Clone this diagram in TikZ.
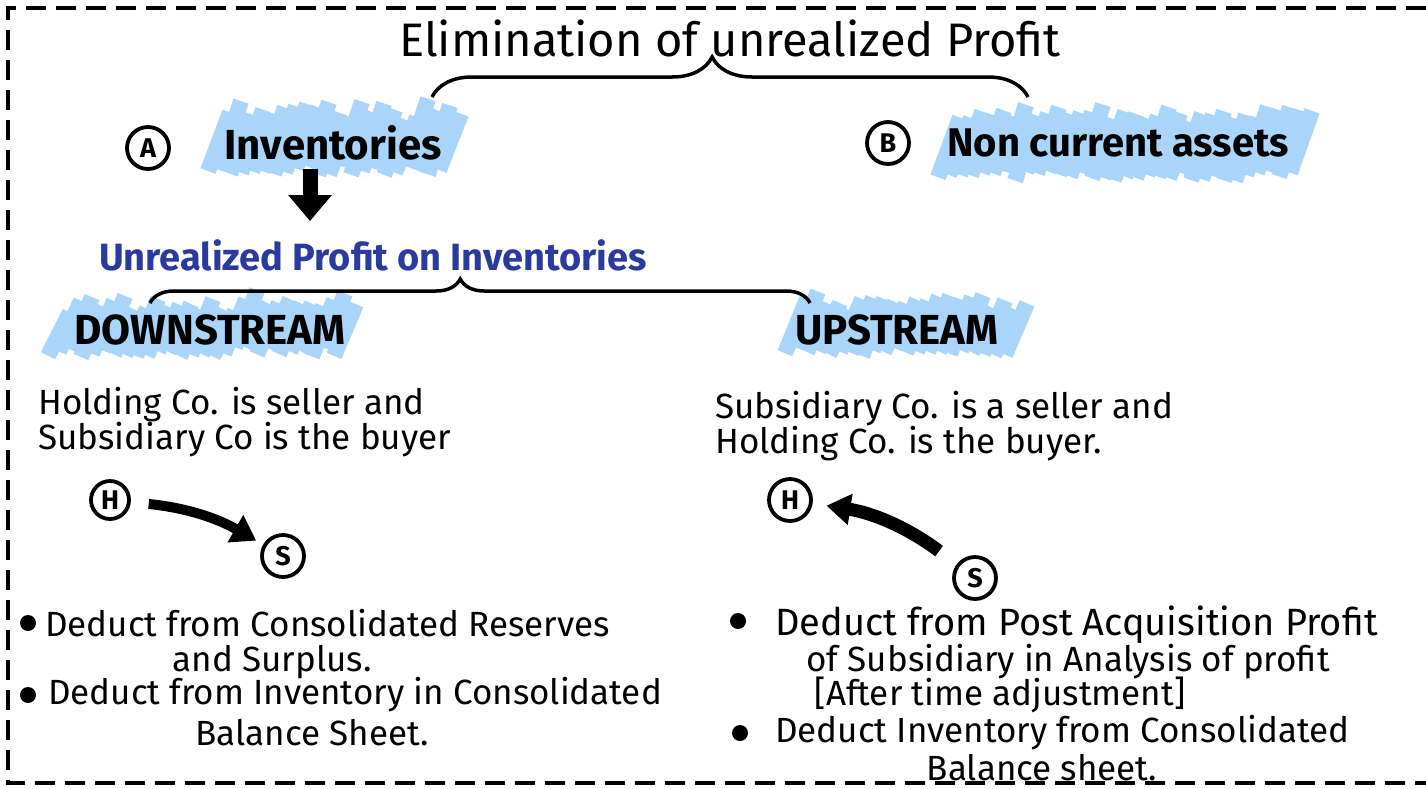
\documentclass[tikz,border=0pt]{standalone}
\usepackage{fontspec}
\setmainfont{Fira Sans}
\usetikzlibrary{arrows.meta,decorations.pathreplacing,positioning}

\definecolor{marcador}{HTML}{A9D5FA}
\definecolor{tintaazul}{HTML}{2B3A9E}

%Resaltado con trazos inclinados
\newcommand{\resaltar}[5]{%
    \foreach \x in {#1,#2,...,#3}{
        \draw[resalte] (\x,{#4+5*rand}) -- ++(22,{-#5-7*rand});
    }
}

\begin{document}
\begin{tikzpicture}[x=1pt,y=-1pt,
    texto/.style={inner sep=0pt,font=\fontsize{#1}{#1}\selectfont},
    titular/.style={inner sep=0pt,font=\fontsize{#1}{#1}\selectfont\bfseries},
    letra/.style={circle,draw,line width=3.8pt,minimum size=42pt,inner sep=0pt,
        font=\fontsize{27}{27}\selectfont\bfseries},
    vineta/.style={circle,fill,minimum size=16pt,inner sep=0pt},
    resalte/.style={marcador,line width=16pt},
    llave/.style={decorate,decoration={brace,amplitude=40pt,aspect=0.47},line width=3.5pt},
    flechota/.style={line width=10pt,-{Triangle[length=24pt,width=30pt]}},
    borde/.style={line width=4pt,dash pattern=on 20pt off 10pt}
]
\useasboundingbox (0,0) rectangle (1426,788);
\pgfmathsetseed{7}

    %Borde
    \draw[borde] (1426,8) -- (8,8) -- (8,783) -- (1426,783);

    %Resaltados
    \resaltar{208}{219}{448}{170}{62}
    \resaltar{938}{949}{1295}{176}{62}
    \resaltar{48}{59}{340}{352}{50}
    \resaltar{785}{796}{1015}{352}{50}

    %Titulo
    \node[texto=47] (titulo) at (730,38) {Elimination of unrealized Profit};
    \coordinate (llA1) at (432,97);
    \coordinate (llA2) at (1028,97);
    \draw[llave] (llA1) -- (llA2);

    %Ramas A y B
    \node[letra] (circA) at (148,148) {A};
    \node[titular=42] (inv) at (333,143) {Inventories};
    \node[letra] (circB) at (888,143) {B};
    \node[titular=40] (nca) at (1118,143) {Non current assets};

    %Utilidad no realizada
    \node[titular=38,text=tintaazul] (unr) at (373,255) {Unrealized Profit on Inventories};
    \draw[line width=15pt,-{Triangle[length=26pt,width=42pt]}]
        ([xshift=-23pt,yshift=-8pt]inv.south) -- ([xshift=-63pt,yshift=18pt]unr.north);
    \coordinate (llB1) at (150,303);
    \coordinate (llB2) at (810,303);
    \draw[llave,decoration={amplitude=24pt}] (llB1) -- (llB2);

    \node[titular=42] (down) at (210,330) {DOWNSTREAM};
    \node[titular=42] (up) at (897,330) {UPSTREAM};

    %Lado izquierdo
    \node[texto=35,anchor=west,align=left] (parA) at (38,422)
        {Holding Co. is seller and\\Subsidiary Co is the buyer};
    \node[letra,minimum size=38pt] (h1) at (110,500) {H};
    \node[letra] (s1) at (283,556) {S};
    \draw[flechota,shorten <=18pt,shorten >=8pt] (h1) to[bend left=12] (s1);

    \node[vineta] (v1) at (28,623) {};
    \node[texto=35,anchor=west] (l1) at (45,623) {Deduct from Consolidated Reserves};
    \node[texto=35] (l2) at (272,662) {and Surplus.};
    \node[vineta] (v2) at (28,695) {};
    \node[texto=35,anchor=west] (l3) at (48,695) {Deduct from Inventory in Consolidated};
    \node[texto=35] (l4) at (312,733) {Balance Sheet.};

    %Lado derecho
    \node[texto=35,anchor=west,align=left] (parB) at (715,426)
        {Subsidiary Co. is a seller and\\Holding Co. is the buyer.};
    \node[letra] (h2) at (790,500) {H};
    \node[letra] (s2) at (975,578) {S};
    \draw[flechota,line width=13pt,shorten <=22pt,shorten >=14pt] (s2) to[bend right=14] (h2);

    \node[vineta] (v3) at (738,621) {};
    \node[texto=38,anchor=west] (r1) at (775,625) {Deduct from Post Acquisition Profit};
    \node[texto=35] (r2) at (1068,662) {of Subsidiary in Analysis of profit};
    \node[texto=35] (r3) at (1000,695) {[After time adjustment]};
    \node[vineta] (v4) at (740,733) {};
    \node[texto=35,anchor=west] (r4) at (775,733) {Deduct Inventory from Consolidated};
    \node[texto=35] (r5) at (1042,768) {Balance sheet.};
\end{tikzpicture}
\end{document}
